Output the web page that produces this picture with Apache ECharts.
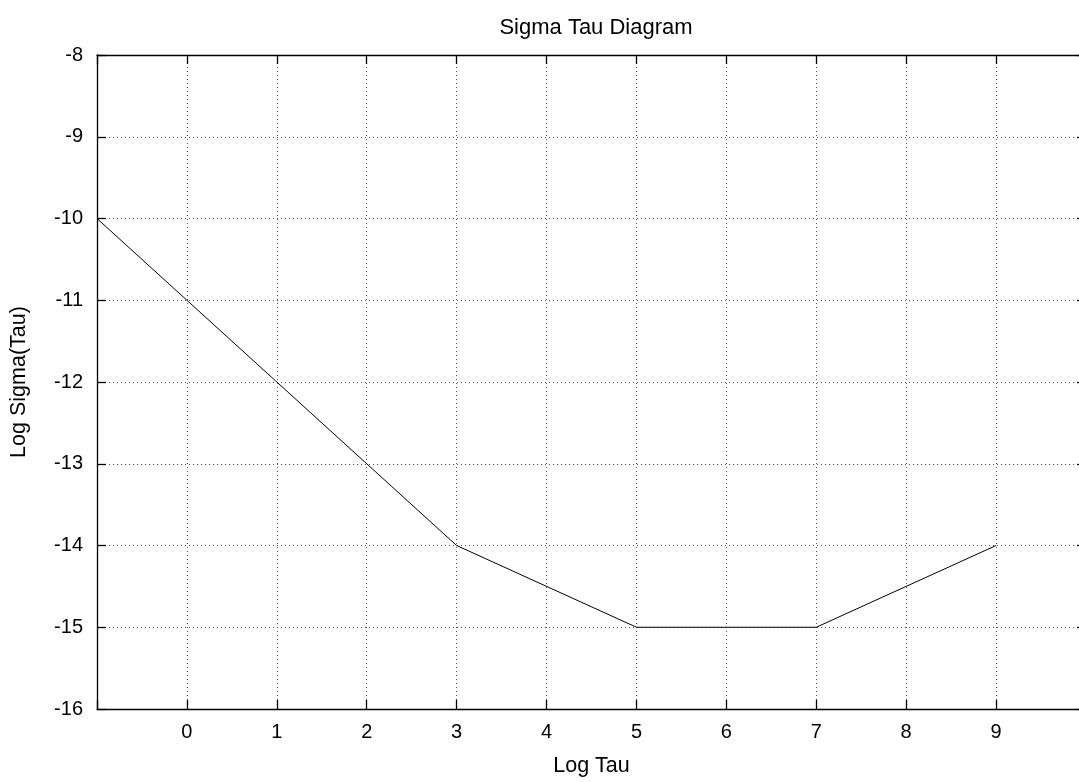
<!DOCTYPE html>
<html>
<head>
<meta charset="utf-8">
<script src="https://cdn.jsdelivr.net/npm/echarts@6/dist/echarts.min.js"></script>
<style>
html,body{margin:0;padding:0;background:#fff;overflow:hidden;width:1079px;height:782px;}
#chart{width:1100px;height:782px;}
</style>
</head>
<body>
<div id="chart"></div>
<script>
var logTau = [-1, 0, 1, 2, 3, 5, 7, 9];
var logSigma = [-10, -11, -12, -13, -14, -15, -15, -14];
var xTickLabels = ['0','1','2','3','4','5','6','7','8','9'];
var titleText = 'Sigma Tau Diagram';
var xName = 'Log Tau';
var yName = 'Log Sigma(Tau)';

var font = 'Liberation Sans, Arial, sans-serif';
var fs = 20;
var chart = echarts.init(document.getElementById('chart'), null, {renderer:'canvas'});
var axisLine = {show:true, onZero:false, lineStyle:{color:'#000', width:1.3}};
var tick = {show:true, inside:true, length:9, lineStyle:{color:'#000', width:1.3}};
var split = {show:true, lineStyle:{color:'#555', width:1, type:[1,3]}};
chart.setOption({
  animation:false,
  backgroundColor:'#fff',
  title:{text:titleText, left:591, textAlign:'center', top:12, textStyle:{fontFamily:font, fontSize:22, fontWeight:'normal', color:'#000'}},
  grid:{left:97, top:55, width:989, height:658, containLabel:false},
  xAxis:[{
    type:'value', min:-1, max:10, interval:1, position:'bottom',
    name:xName, nameLocation:'middle', nameGap:46,
    nameTextStyle:{fontFamily:font, fontSize:21.5, color:'#000'},
    axisLine:axisLine, axisTick:tick, splitLine:split,
    axisLabel:{fontFamily:font, fontSize:fs, color:'#000', margin:13,
      formatter:function(v){ var s=String(v); return xTickLabels.indexOf(s)>=0 ? s : ''; }}
  },{
    type:'value', min:-1, max:10, interval:1, position:'top',
    axisLine:axisLine, axisTick:tick, splitLine:{show:false}, axisLabel:{show:false}
  }],
  yAxis:[{
    type:'value', min:-16, max:-8, interval:1, position:'left',
    name:yName, nameLocation:'middle', nameGap:67, nameRotate:90,
    nameTextStyle:{fontFamily:font, fontSize:21.5, color:'#000'},
    axisLine:axisLine, axisTick:tick, splitLine:split,
    axisLabel:{fontFamily:font, fontSize:fs, color:'#000', margin:14}
  },{
    type:'value', min:-16, max:-8, interval:1, position:'right',
    axisLine:axisLine, axisTick:tick, splitLine:{show:false}, axisLabel:{show:false}
  }],
  series:[{
    type:'line', data:logTau.map(function(x,i){return [x, logSigma[i]];}),
    symbol:'none', lineStyle:{color:'#000', width:1}, clip:true
  }]
});
</script>
</body>
</html>
